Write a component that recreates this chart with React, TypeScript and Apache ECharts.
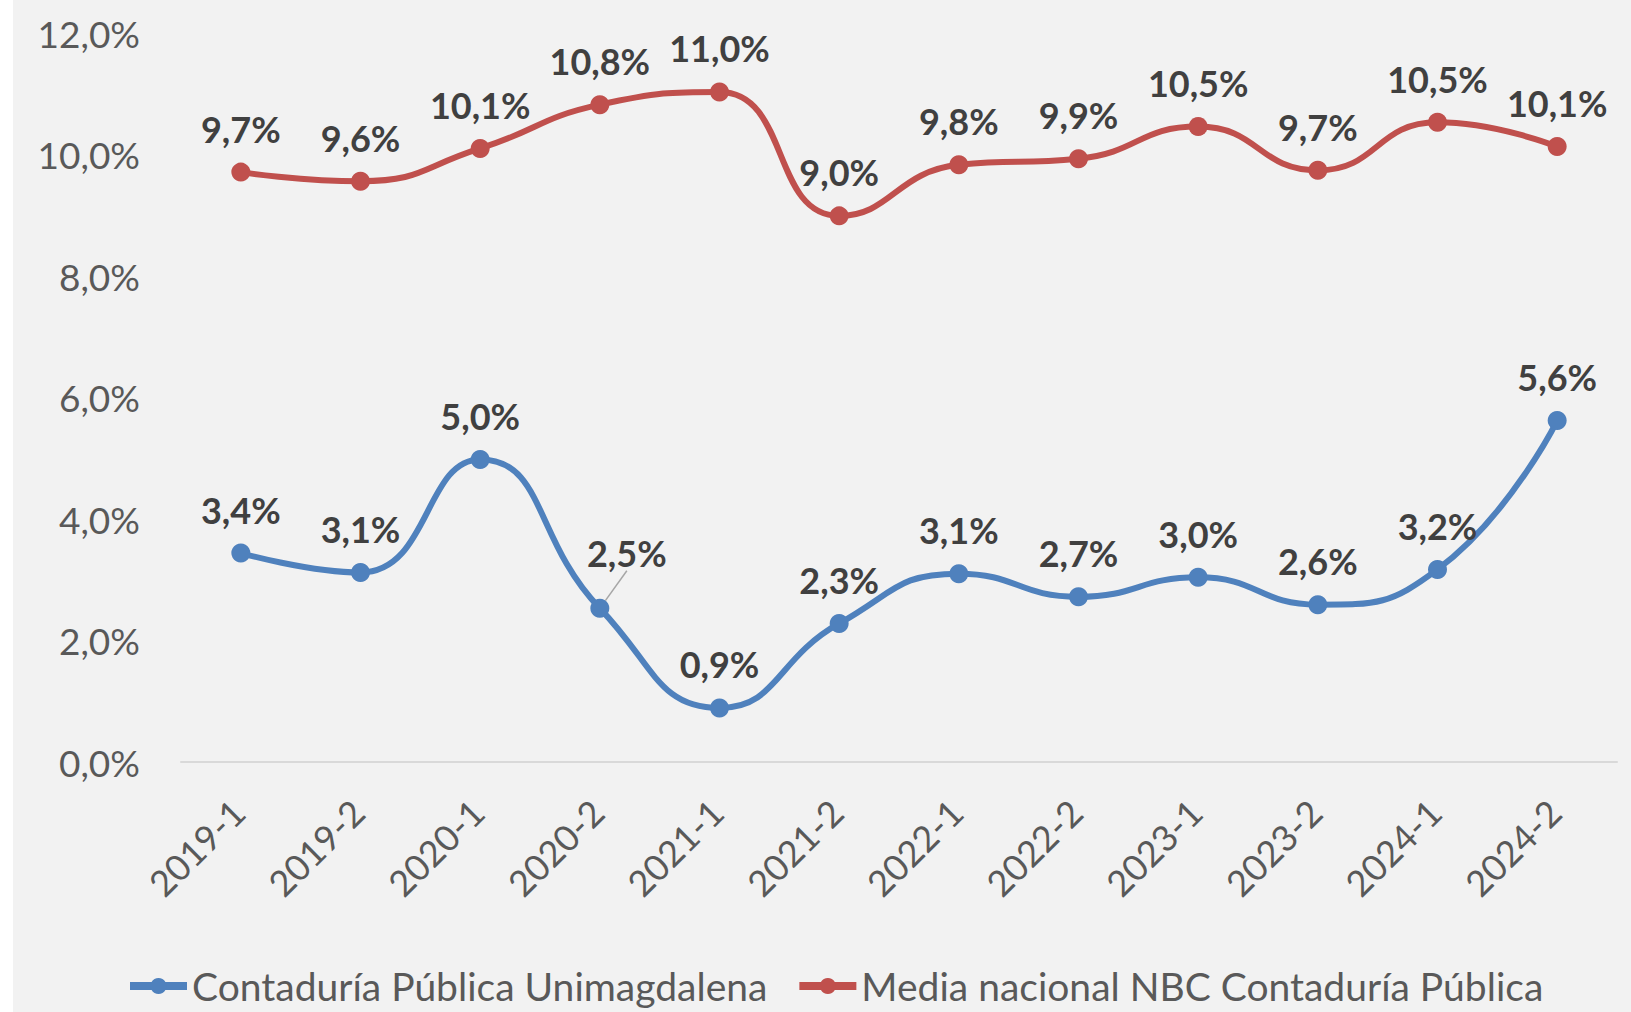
import React, { useEffect, useRef } from "react";
import * as echarts from "echarts";

const categories = ["2019-1", "2019-2", "2020-1", "2020-2", "2021-1", "2021-2", "2022-1", "2022-2", "2023-1", "2023-2", "2024-1", "2024-2"];
const unimagdalena = [3.44, 3.12, 4.98, 2.53, 0.89, 2.28, 3.1, 2.72, 3.04, 2.59, 3.17, 5.62];
const mediaNacional = [9.71, 9.56, 10.1, 10.82, 11.03, 8.99, 9.83, 9.93, 10.46, 9.74, 10.53, 10.13];
const seriesNames = ["Contaduría Pública Unimagdalena", "Media nacional NBC Contaduría Pública"];

const FONT = "Lato, 'Open Sans', sans-serif";
const fmt = (v: number) => v.toFixed(1).replace(".", ",") + "%";

export default function App() {
  const ref = useRef<HTMLDivElement>(null);
  useEffect(() => {
    if (!ref.current) return;
    const chart = echarts.init(ref.current, null, { renderer: "svg" });
    const labelCommon = {
      show: true,
      position: "top",
      distance: 16,
      fontFamily: FONT,
      fontSize: 36,
      fontWeight: "bold",
      color: "#404040",
      formatter: (p: any) => fmt(p.value),
    };
    chart.setOption({
      animation: false,
      backgroundColor: "transparent",
      textStyle: { fontFamily: FONT },
      grid: { left: 181, right: 14, top: 33, bottom: 250, containLabel: false },
      legend: {
        left: 126,
        top: 966,
        padding: 0,
        itemWidth: 57,
        itemHeight: 20,
        itemGap: 28,
        lineStyle: { width: 8 },
        textStyle: { fontFamily: FONT, fontSize: 39, color: "#595959", lineHeight: 40 },
        data: seriesNames,
      },
      xAxis: {
        type: "category",
        data: categories,
        boundaryGap: true,
        axisLine: { show: true, lineStyle: { color: "#d9d9d9", width: 2 } },
        axisTick: { show: false },
        axisLabel: {
          rotate: 45,
          margin: 41,
          fontFamily: FONT,
          fontSize: 36,
          color: "#595959",
          padding: [0, 4, 0, 0],
          interval: 0,
        },
      },
      yAxis: {
        type: "value",
        min: 0,
        max: 12,
        interval: 2,
        splitLine: { show: false },
        axisLine: { show: false },
        axisTick: { show: false },
        axisLabel: {
          margin: 41,
          fontFamily: FONT,
          fontSize: 37,
          color: "#595959",
          formatter: (v: number) => fmt(v),
        },
      },
      series: [
        {
          name: seriesNames[0],
          type: "line",
          smooth: 0.5,
          symbol: "circle",
          symbolSize: 19,
          lineStyle: { color: "#4f81bd", width: 6 },
          itemStyle: { color: "#4f81bd" },
          label: labelCommon,
          labelLayout: (params: any) => (params.dataIndex === 3 ? { dx: 27, dy: -12 } : {}),
          data: unimagdalena.map((v, i) =>
            i === 3
              ? { value: v, labelLine: { show: true, lineStyle: { color: "#a6a6a6", width: 1.5 } } }
              : { value: v }
          ),
        },
        {
          name: seriesNames[1],
          type: "line",
          smooth: 0.5,
          symbol: "circle",
          symbolSize: 19,
          lineStyle: { color: "#c0504d", width: 6 },
          itemStyle: { color: "#c0504d" },
          label: labelCommon,
          data: mediaNacional,
        },
      ],
    });
    return () => chart.dispose();
  }, []);
  return (
    <div style={{ position: "fixed", left: 0, top: 0, width: 1631, height: 1012, background: "#ffffff" }}>
      <div style={{ position: "absolute", left: 13, top: 0, width: 1618, height: 1012, background: "#f2f2f2" }} />
      <div ref={ref} style={{ position: "absolute", left: 0, top: 0, width: 1631, height: 1012 }} />
    </div>
  );
}
